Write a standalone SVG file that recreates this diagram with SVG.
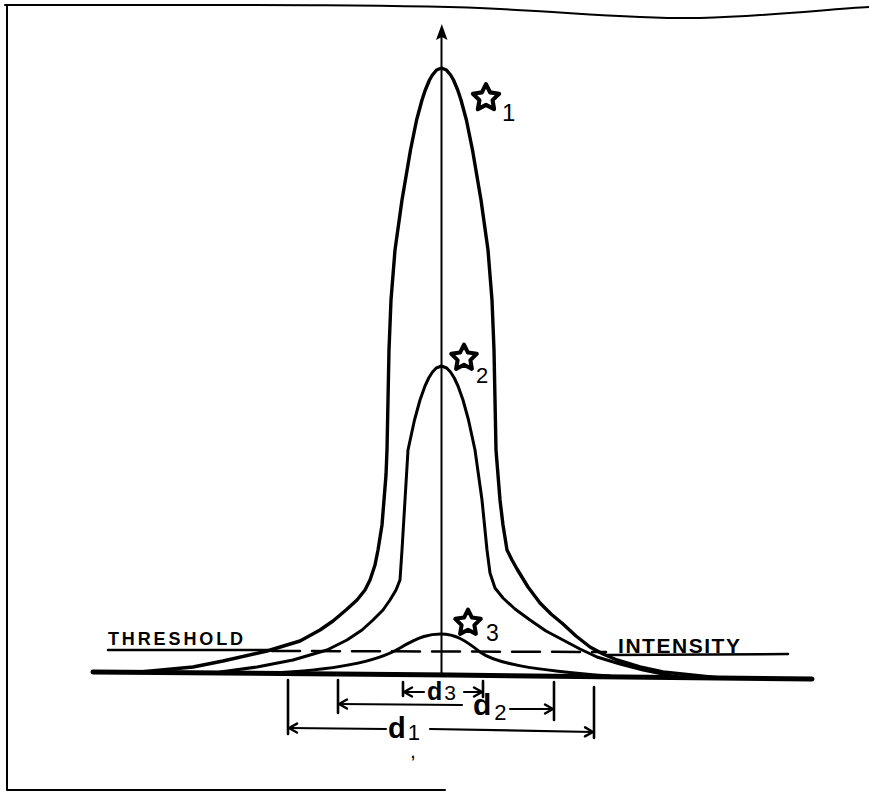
<svg xmlns="http://www.w3.org/2000/svg" width="869" height="795" viewBox="0 0 869 795">
<style>
.ln{fill:none;stroke:#000;stroke-linecap:round;stroke-linejoin:round}
.lbl{font-family:"Liberation Sans",Arial,sans-serif;fill:#000}
.cap{font-weight:bold}
.d{font-weight:bold}
.sub{font-weight:normal}
.star{fill:none;stroke:#000;stroke-width:3.6;stroke-linejoin:round}
</style>
<defs>
<polygon id="star" points="0,-12 3.53,-4.85 11.41,-3.71 5.71,1.85 7.05,9.71 0,6 -7.05,9.71 -5.71,1.85 -11.41,-3.71 -3.53,-4.85"/>
<marker id="chev" viewBox="0 0 10 10" refX="10" refY="5" markerWidth="10" markerHeight="10" markerUnits="userSpaceOnUse" orient="auto-start-reverse" overflow="visible">
<path d="M 2 0.5 L 10 5 L 2 9.5" fill="none" stroke="#000" stroke-width="2.4" stroke-linecap="round" stroke-linejoin="round"/>
</marker>
</defs>
<rect width="869" height="795" fill="#fff"/>
<g id="frame">
<path class="ln" stroke-width="2" d="M 5 5 C 200 5, 400 4, 500 9 C 580 13, 640 19, 700 18 C 770 16, 830 9, 869 7"/>
<path class="ln" stroke-width="2" d="M 7 6 L 7 790 L 445 790"/>
</g>
<g id="baseline">
<path class="ln" stroke-width="5" d="M 93 672 L 450 675 L 812 679"/>
</g>
<g id="axis">
<path class="ln" stroke-width="2" d="M 441.5 36 L 441.5 674"/>
<path d="M 441.8 24 L 447.5 40 L 441.8 37 L 436 40 Z" fill="#000"/>
</g>
<g id="threshold">
<path class="ln" stroke-width="2.5" stroke-dasharray="28 12" stroke-linecap="butt" d="M 272 651 L 606 652"/>
</g>
<g id="curve1">
<path class="ln" stroke-width="3.4" d="M 140 672 L 193 667 L 223 661 L 267 651 L 300 641 L 320 630 L 333 621 L 346 610 L 357 600 L 365 590 L 370 580 L 375 565 L 378 550 L 382 525 L 384 500 L 386 475 L 387 450 L 388 400 L 389 350 L 391 300 L 395 250 L 402 200 L 410.5 150 L 416.6 120 L 422 100 L 425.3 90 L 429.5 80 L 432.4 75 L 436.6 70 L 441.5 68 L 446.4 70 L 450.6 75 L 453.5 80 L 457.7 90 L 461 100 L 466.4 120 L 472.5 150 L 481 200 L 488 250 L 492 300 L 494 350 L 495 400 L 496 450 L 498 475 L 500 500 L 503 525 L 507 550 L 512 560 L 517 569 L 528 587 L 540 603 L 551 614 L 563 624 L 576 636 L 590 647 L 603 654 L 617 660 L 640 667 L 663 672 L 720 678"/>
</g>
<g id="curve2">
<path class="ln" stroke-width="3" d="M 220 672 L 257 667 L 293 660 L 327 650 L 347 640 L 362 630 L 373 620 L 383 610 L 390 600 L 396 590 L 400 580 L 402 550 L 405 500 L 408 450 L 414.5 420 L 420 400 L 425 386 L 428.7 378 L 432.5 372 L 436.3 368 L 441.5 366 L 446.7 368 L 450.5 372 L 454.3 378 L 458 386 L 463 400 L 468.5 420 L 475 450 L 482 500 L 487 550 L 490 573 L 495 588 L 503 598 L 515 609 L 530 620 L 546 631 L 563 640 L 580 649 L 597 657 L 620 664 L 643 670 L 677 677"/>
</g>
<g id="curve3">
<path class="ln" stroke-width="3" d="M 270 673 C 340 670, 380 660, 400 648 C 420 636, 430 634, 441 634 C 455 634, 465 640, 480 652 C 495 663, 530 670, 610 676"/>
</g>
<g id="star1">
<use href="#star" class="star" transform="translate(486,98) scale(1.15)"/>
<text class="lbl sub" x="502" y="121" font-size="24">1</text>
</g>
<g id="star2">
<use href="#star" class="star" transform="translate(464,358) scale(1.12)"/>
<text class="lbl sub" x="476" y="383" font-size="22">2</text>
</g>
<g id="star3">
<use href="#star" class="star" transform="translate(468,623) scale(1.12)"/>
<text class="lbl sub" x="486" y="641" font-size="23">3</text>
</g>
<g id="label-threshold">
<text class="lbl cap" x="108" y="645" font-size="18" textLength="135" lengthAdjust="spacing">THRESHOLD</text>
<path class="ln" stroke-width="2.5" d="M 108 650 L 268 650"/>
</g>
<g id="label-intensity">
<text class="lbl cap" x="618" y="653" font-size="21" textLength="122" lengthAdjust="spacing">INTENSITY</text>
<path class="ln" stroke-width="2.5" d="M 606 655 L 788 654"/>
</g>
<g id="dimensions">
<path class="ln" stroke-width="2.6" d="M 403 682 L 403 696 M 483 681 L 483 697 M 338 680 L 338 713 M 554 682 L 554 720 M 288 680 L 288 734 M 594 687 L 594 738"/>
<path class="ln" stroke-width="2.2" marker-start="url(#chev)" d="M 404 692 L 424 692"/>
<path class="ln" stroke-width="2.2" marker-end="url(#chev)" d="M 464 692 L 482 692"/>
<path class="ln" stroke-width="2.2" marker-start="url(#chev)" d="M 339 704 L 462 705"/>
<path class="ln" stroke-width="2.2" marker-end="url(#chev)" d="M 510 709 L 553 709"/>
<path class="ln" stroke-width="2.2" marker-start="url(#chev)" d="M 289 728 L 386 729"/>
<path class="ln" stroke-width="2.2" marker-end="url(#chev)" d="M 430 729 L 593 732"/>
</g>
<g id="label-d3">
<text class="lbl" x="427" y="700"><tspan class="d" font-size="25">d</tspan><tspan class="sub" font-size="21" dx="2">3</tspan></text>
</g>
<g id="label-d2">
<text class="lbl" x="473" y="715"><tspan class="d" font-size="30">d</tspan><tspan class="sub" font-size="22" dx="3" dy="5">2</tspan></text>
</g>
<g id="label-d1">
<text class="lbl" x="388" y="738"><tspan class="d" font-size="29">d</tspan><tspan class="sub" font-size="22" dx="2" dy="2">1</tspan></text>
<text class="lbl d" x="411" y="758" font-size="14">,</text>
</g>
</svg>
